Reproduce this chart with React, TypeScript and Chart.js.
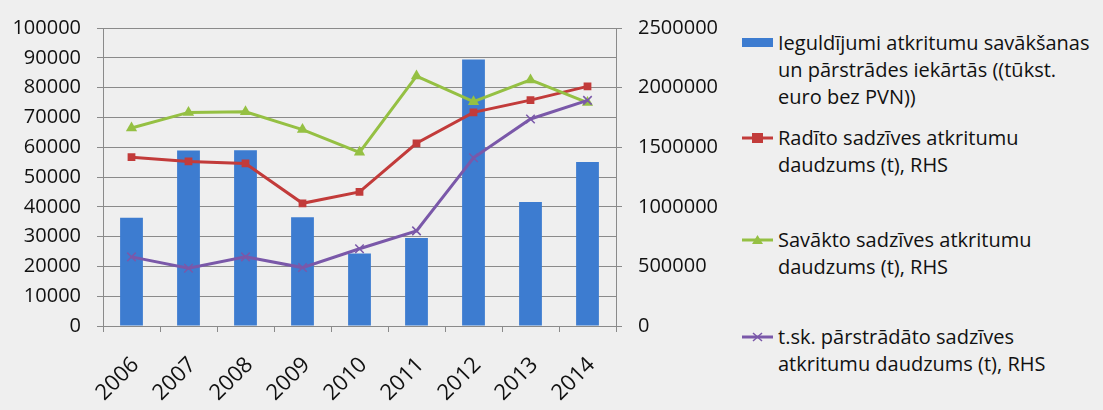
import React, { useEffect, useRef } from "react";
import { Chart, registerables } from "chart.js";

Chart.register(...registerables);

const years = ["2006", "2007", "2008", "2009", "2010", "2011", "2012", "2013", "2014"];
const investments = [36300, 58900, 59000, 36500, 24300, 29500, 89400, 41600, 55000];
const generated = [1416000, 1381000, 1364000, 1029000, 1125000, 1533000, 1792000, 1895000, 2010000];
const collected = [1661000, 1792000, 1797000, 1648000, 1457000, 2097000, 1882000, 2064000, 1874000];
const recycled = [580000, 485000, 580000, 490000, 648000, 798000, 1411000, 1737000, 1893000];

const legendLabels = [
  ["Ieguldījumi atkritumu savākšanas", "un pārstrādes iekārtās ((tūkst.", "euro bez PVN))"],
  ["Radīto sadzīves atkritumu", "daudzums (t), RHS"],
  ["Savākto sadzīves atkritumu", "daudzums (t), RHS"],
  ["t.sk. pārstrādāto sadzīves", "atkritumu daudzums (t), RHS"],
];

const BLUE = "#3d7cd0";
const RED = "#c23b3a";
const GREEN = "#95c043";
const PURPLE = "#7a58a9";
const GRID = "#8a8a8a";
const BG = "#efefef";
const FONT = "'Open Sans'";
const TEXT = "#111111";

function Marker({ kind, color }: { kind: string; color: string }) {
  return (
    <svg width={32} height={14} style={{ display: "block" }}>
      {kind === "bar" ? (
        <rect x={0} y={2} width={31} height={9} fill={color} />
      ) : (
        <>
          <line x1={0} y1={7} x2={31} y2={7} stroke={color} strokeWidth={3} />
          {kind === "rect" && <rect x={10} y={2} width={11} height={10} fill={color} />}
          {kind === "tri" && <polygon points="15.5,2 21,11 10,11" fill={color} />}
          {kind === "cross" && (
            <>
              <line x1={11} y1={3} x2={20} y2={11} stroke={color} strokeWidth={1.5} />
              <line x1={20} y1={3} x2={11} y2={11} stroke={color} strokeWidth={1.5} />
            </>
          )}
        </>
      )}
    </svg>
  );
}

export default function App() {
  const ref = useRef<HTMLCanvasElement>(null);

  useEffect(() => {
    if (!ref.current) return;
    const chart = new Chart(ref.current, {
      type: "bar",
      data: {
        labels: years,
        datasets: [
          {
            type: "bar",
            label: legendLabels[0].join(" "),
            data: investments,
            backgroundColor: BLUE,
            yAxisID: "y",
            barPercentage: 0.4,
            categoryPercentage: 1,
            order: 10,
          },
          {
            type: "line",
            label: legendLabels[1].join(" "),
            data: generated,
            borderColor: RED,
            backgroundColor: RED,
            borderWidth: 3,
            pointStyle: "rect",
            pointRadius: 5.5,
            pointBorderWidth: 0,
            yAxisID: "y1",
            order: 3,
          },
          {
            type: "line",
            label: legendLabels[2].join(" "),
            data: collected,
            borderColor: GREEN,
            backgroundColor: GREEN,
            borderWidth: 3,
            pointStyle: "triangle",
            pointRadius: 6.5,
            pointBorderWidth: 0,
            yAxisID: "y1",
            order: 2,
          },
          {
            type: "line",
            label: legendLabels[3].join(" "),
            data: recycled,
            borderColor: PURPLE,
            backgroundColor: PURPLE,
            borderWidth: 3,
            pointStyle: "crossRot",
            pointRadius: 6,
            pointBorderWidth: 1.5,
            yAxisID: "y1",
            order: 1,
          },
        ],
      },
      options: {
        responsive: false,
        animation: false,
        layout: { padding: { top: 20, left: 0, right: 0, bottom: 0 } },
        plugins: { legend: { display: false }, tooltip: { enabled: false } },
        scales: {
          x: {
            offset: true,
            grid: { display: true, drawOnChartArea: false, drawTicks: true, tickLength: 6, color: GRID, offset: true },
            border: { display: true, color: GRID },
            ticks: {
              minRotation: 45,
              maxRotation: 45,
              padding: 20,
              labelOffset: 4,
              color: TEXT,
              font: { family: FONT, size: 22 },
            },
            afterFit: (s: any) => {
              s.height = 84;
            },
          },
          y: {
            position: "left",
            min: 0,
            max: 100000,
            ticks: {
              stepSize: 10000,
              padding: 16,
              color: TEXT,
              font: { family: FONT, size: 20 },
              callback: (v: any) => String(v),
            },
            grid: { color: GRID, tickLength: 6 },
            border: { display: true, color: GRID },
            afterFit: (s: any) => {
              s.width = 103;
            },
          },
          y1: {
            position: "right",
            min: 0,
            max: 2500000,
            ticks: {
              stepSize: 500000,
              padding: 16,
              color: TEXT,
              font: { family: FONT, size: 20 },
              callback: (v: any) => String(v),
            },
            grid: { drawOnChartArea: false, color: GRID, tickLength: 6 },
            border: { display: true, color: GRID },
            afterFit: (s: any) => {
              s.width = 114;
            },
          },
        },
      },
    });
    return () => chart.destroy();
  }, []);

  const kinds = [
    { kind: "bar", color: BLUE },
    { kind: "rect", color: RED },
    { kind: "tri", color: GREEN },
    { kind: "cross", color: PURPLE },
  ];
  const tops = [29, 124, 226, 323];

  return (
    <div style={{ position: "fixed", left: 0, top: 0, width: 1103, height: 410, background: BG, overflow: "hidden" }}>
      <canvas ref={ref} width={730} height={410} style={{ position: "absolute", left: 0, top: 0 }} />
      {legendLabels.map((lines, i) => (
        <div key={i} style={{ position: "absolute", left: 742, top: tops[i] }}>
          <div style={{ position: "absolute", left: 0, top: 7 }}>
            <Marker kind={kinds[i].kind} color={kinds[i].color} />
          </div>
          <div
            style={{
              position: "absolute",
              left: 36,
              top: 0,
              whiteSpace: "nowrap",
              fontFamily: FONT,
              fontSize: 20,
              lineHeight: "27px",
              color: TEXT,
            }}
          >
            {lines.map((l, j) => (
              <div key={j}>{l}</div>
            ))}
          </div>
        </div>
      ))}
    </div>
  );
}
